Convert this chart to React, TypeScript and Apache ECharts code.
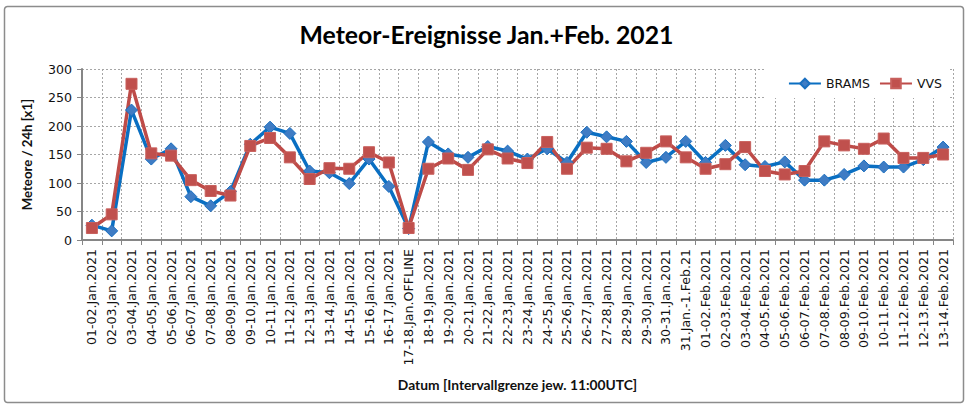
import React, { useEffect, useRef } from "react";
import * as echarts from "echarts";

const categories: string[] = [
  "01-02.Jan.2021", "02-03.Jan.2021", "03-04.Jan.2021", "04-05.Jan.2021", "05-06.Jan.2021",
  "06-07.Jan.2021", "07-08.Jan.2021", "08-09.Jan.2021", "09-10.Jan.2021", "10-11.Jan.2021",
  "11-12.Jan.2021", "12-13.Jan.2021", "13-14.Jan.2021", "14-15.Jan.2021", "15-16.Jan.2021",
  "16-17.Jan.2021", "17-18.Jan.OFFLINE", "18-19.Jan.2021", "19-20.Jan.2021", "20-21.Jan.2021",
  "21-22.Jan.2021", "22-23.Jan.2021", "23-24.Jan.2021", "24-25.Jan.2021", "25-26.Jan.2021",
  "26-27.Jan.2021", "27-28.Jan.2021", "28-29.Jan.2021", "29-30.Jan.2021", "30-31.Jan.2021",
  "31.Jan.-1.Feb.21", "01-02.Feb.2021", "02-03.Feb.2021", "03-04.Feb.2021", "04-05.Feb.2021",
  "05-06.Feb.2021", "06-07.Feb.2021", "07-08.Feb.2021", "08-09.Feb.2021", "09-10.Feb.2021",
  "10-11.Feb.2021", "11-12.Feb.2021", "12-13.Feb.2021", "13-14.Feb.2021",
];

const brams: number[] = [
  26, 16, 228, 142, 160, 76, 60, 85, 168, 198,
  187, 121, 118, 99, 142, 94, 20, 172, 151, 145,
  164, 156, 142, 160, 136, 189, 181, 173, 136, 145,
  173, 136, 166, 132, 129, 137, 105, 105, 115, 130,
  128, 128, 141, 163,
];

const vvs: number[] = [
  21, 45, 274, 152, 148, 105, 86, 78, 165, 179,
  145, 107, 126, 125, 154, 136, 21, 125, 143, 123,
  159, 143, 135, 172, 125, 162, 160, 138, 153, 173,
  145, 125, 133, 163, 121, 115, 121, 173, 166, 160,
  178, 144, 144, 150,
];

const titleText = "Meteor-Ereignisse Jan.+Feb. 2021";
const xName = "Datum [Intervallgrenze jew. 11:00UTC]";
const yName = "Meteore / 24h [x1]";

export default function App() {
  const ref = useRef<HTMLDivElement>(null);

  useEffect(() => {
    document.body.style.margin = "0";
    if (!ref.current) return;
    const chart = echarts.init(ref.current, undefined, { renderer: "svg" });
    const tickFont = "DejaVu Sans";
    const gridLine = { color: "#a6a6a6", type: [2, 2] as any, width: 1 };
    chart.setOption({
      animation: false,
      backgroundColor: "#fff",
      title: {
        text: titleText,
        left: "center",
        top: 17,
        textStyle: { fontFamily: "Lato", fontWeight: "bold", fontSize: 24.8, color: "#000" },
      },
      legend: {
        right: 25,
        top: 69,
        backgroundColor: "#fff",
        padding: [8, 6, 8, 23],
        itemWidth: 32,
        itemHeight: 12,
        itemGap: 9,
        textStyle: { fontFamily: tickFont, fontSize: 12.5, color: "#111" },
        data: ["BRAMS", "VVS"],
      },
      grid: { left: 82, right: 20, top: 69, bottom: 169, containLabel: false },
      xAxis: {
        type: "category",
        data: categories,
        boundaryGap: true,
        name: xName,
        nameLocation: "middle",
        nameGap: 137,
        nameTextStyle: { fontFamily: "Lato", fontWeight: "bold", fontSize: 13.8, color: "#111" },
        axisLine: { lineStyle: { color: "#868686", width: 2 } },
        axisTick: { show: true, alignWithLabel: false, length: 5, lineStyle: { color: "#868686" } },
        axisLabel: {
          interval: 0,
          rotate: 90,
          margin: 9,
          fontFamily: tickFont,
          fontSize: 12.6,
          color: "#111",
        },
        splitLine: { show: true, interval: 0, lineStyle: gridLine },
      },
      yAxis: {
        type: "value",
        min: 0,
        max: 300,
        interval: 50,
        name: yName,
        nameLocation: "middle",
        nameGap: 49,
        nameRotate: 90,
        nameTextStyle: { fontFamily: "Lato", fontWeight: "bold", fontSize: 13.2, color: "#111" },
        axisLine: { show: true, lineStyle: { color: "#868686", width: 2 } },
        axisTick: { show: true, length: 5, lineStyle: { color: "#868686" } },
        axisLabel: { fontFamily: tickFont, fontSize: 12.6, color: "#111", margin: 10 },
        splitLine: { show: true, lineStyle: gridLine },
      },
      series: [
        {
          name: "BRAMS",
          type: "line",
          data: brams,
          symbol: "diamond",
          symbolSize: 12,
          lineStyle: { color: "#0a6fc2", width: 3.5 },
          itemStyle: { color: "#3f7cc4", borderColor: "#1a6fc0", borderWidth: 1 },
        },
        {
          name: "VVS",
          type: "line",
          data: vvs,
          symbol: "rect",
          symbolSize: 11,
          lineStyle: { color: "#be4b48", width: 3.5 },
          itemStyle: { color: "#c0504d", borderColor: "#c8605d", borderWidth: 1 },
        },
      ],
      graphic: [
        {
          type: "rect",
          shape: { x: 4.5, y: 6.5, width: 959, height: 396, r: 3 },
          style: { fill: "none", stroke: "#8c8c8c", lineWidth: 1.5 },
          silent: true,
          z: 100,
        },
      ],
    });
    return () => chart.dispose();
  }, []);

  return (
    <div
      ref={ref}
      style={{ position: "absolute", left: 0, top: 0, width: 973, height: 409 }}
    />
  );
}
